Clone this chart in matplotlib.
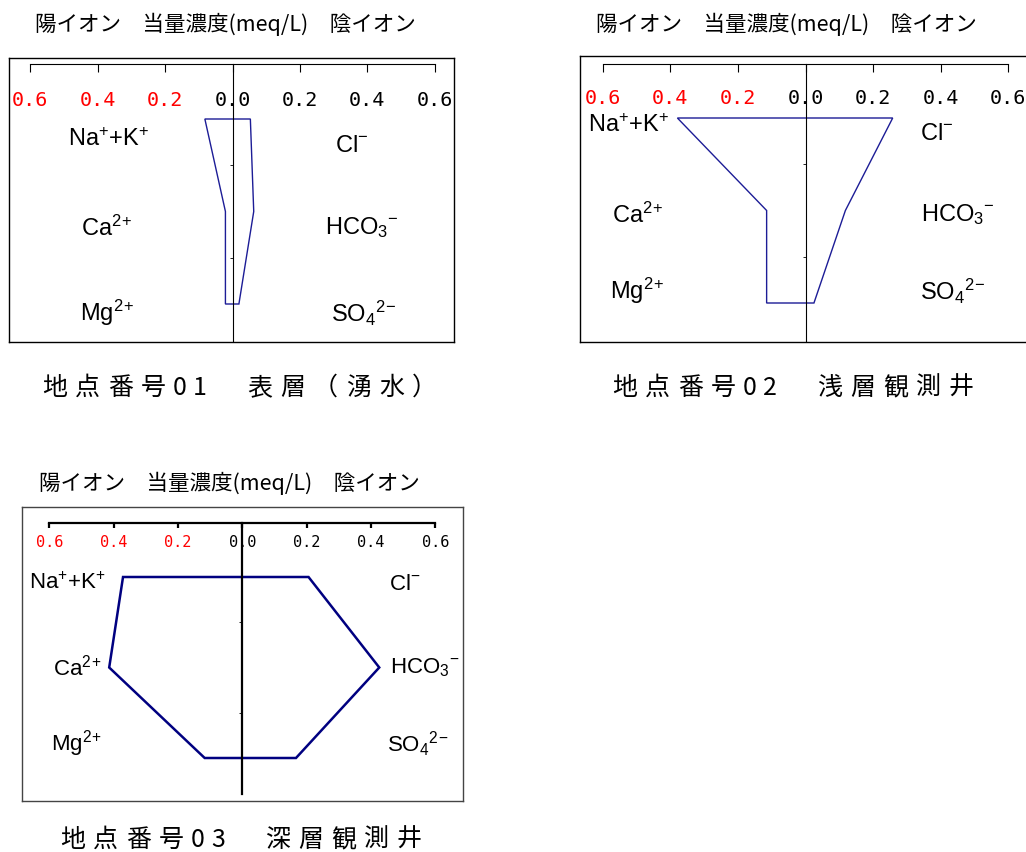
import matplotlib
matplotlib.use("Agg")
import matplotlib.pyplot as plt
from matplotlib.patches import Polygon

plt.rcParams['font.family'] = ['Noto Sans CJK JP', 'DejaVu Sans']
plt.rcParams['mathtext.fontset'] = 'custom'
plt.rcParams['mathtext.rm'] = 'Liberation Sans'
plt.rcParams['mathtext.default'] = 'rm'

# --- data (meq/L) ---
tick_vals = [-0.6, -0.4, -0.2, 0.0, 0.2, 0.4, 0.6]
tick_text = ['0.6', '0.4', '0.2', '0.0', '0.2', '0.4', '0.6']
title = '陽イオン　当量濃度(meq/L)　陰イオン'

# cations: Na+K, Ca, Mg   anions: Cl, HCO3, SO4
site01_cations = [0.082, 0.021, 0.021]
site01_anions = [0.053, 0.063, 0.019]
site02_cations = [0.379, 0.115, 0.115]
site02_anions = [0.258, 0.118, 0.025]
site03_cations = [0.371, 0.414, 0.117]
site03_anions = [0.206, 0.426, 0.167]

captions = ['地点番号01　表層（湧水）',
            '地点番号02　浅層観測井',
            '地点番号03　深層観測井']

cat_labels = [r'Na$^{+}$+K$^{+}$', r'Ca$^{2}$$^{+}$', r'Mg$^{2}$$^{+}$']
an_labels = [r'Cl$^{-}$', r'HCO$_{3}$$^{-}$', r'SO$_{4}$$^{2}$$^{-}$']

W, H = 1026, 853
fig = plt.figure(figsize=(W / 100, H / 100), dpi=100)


def draw_panel(cations, anions, lay):
    left, top, right, bottom = lay['box']
    ax = fig.add_axes([left / W, 1 - bottom / H, (right - left) / W, (bottom - top) / H])
    x0, sc = lay['x0'], lay['scale']
    r0, dr = lay['rows'][0], (lay['rows'][2] - lay['rows'][0]) / 2

    def px(x):
        return (x - x0) / sc

    def py(y):
        return (y - r0) / dr

    ax.set_xlim(px(left), px(right))
    ax.set_ylim(py(bottom), py(top))
    ax.set_xticks([])
    ax.set_yticks([])
    for s in ax.spines.values():
        s.set_color(lay['box_color'])
        s.set_linewidth(1.0)

    alw = lay['axis_lw']
    ya = py(lay['axis_y'])
    yt = py(lay['axis_y'] + lay['tick_len'])
    ax.plot([tick_vals[0], tick_vals[-1]], [ya, ya], color='black', lw=alw)
    ax.vlines(tick_vals, ya, yt, color='black', lw=alw)
    ax.plot([0, 0], [ya, py(lay['center_end'])], color='black', lw=alw)
    ax.hlines([0.5, 1.5], -3 / sc, 0, color='black', lw=0.6)

    yl = py(lay['tick_label_y'])
    for v, t in zip(tick_vals, tick_text):
        ax.text(v, yl, t, ha='center', va='center', family='DejaVu Sans Mono',
                fontsize=lay['tick_fs'], color='red' if v < 0 else 'black')

    rows = [0, 1, 2]
    verts = [(-c, r) for c, r in zip(cations, rows)] + \
            [(a, r) for a, r in zip(anions[::-1], rows[::-1])]
    ax.add_patch(Polygon(verts, closed=True, fill=False,
                         edgecolor=lay['poly_color'], lw=lay['poly_lw']))

    for lab, (x, y) in zip(cat_labels, lay['cat_pos']):
        ax.text(px(x), py(y), lab, ha='center', va='center',
                family='Liberation Sans', fontsize=lay['ion_fs'])
    for lab, (x, y) in zip(an_labels, lay['an_pos']):
        ax.text(px(x), py(y), lab, ha='center', va='center',
                family='Liberation Sans', fontsize=lay['ion_fs'])
    return ax


def spaced_text(s, x, y, fs=18, full=33, half=20):
    # caption drawn with wide letter spacing, one character per cell
    for i, ch in enumerate(s):
        w = half if ord(ch) < 128 else full
        if ch != '　':
            fig.text((x + w / 2) / W, 1 - y / H, ch, ha='center', va='center', fontsize=fs)
        x += w


lay1 = dict(box=(9, 59, 454, 343), x0=232.5, scale=337, rows=(120, 212.5, 305),
            axis_y=65, tick_len=8, tick_label_y=100, center_end=343,
            tick_fs=14.5, ion_fs=17, poly_lw=1.0, poly_color='#1c1c96', axis_lw=0.8,
            box_color='black',
            cat_pos=[(109, 140), (107, 228), (107, 313)],
            an_pos=[(352, 146), (362, 228), (364, 313)])
lay2 = dict(box=(580, 57, 1040, 343), x0=805.5, scale=338, rows=(119, 212, 304),
            axis_y=65, tick_len=8, tick_label_y=98, center_end=343,
            tick_fs=14.5, ion_fs=17, poly_lw=1.0, poly_color='#1c1c96', axis_lw=0.8,
            box_color='black',
            cat_pos=[(629, 126), (638, 215), (637, 291)],
            an_pos=[(937, 134), (958, 215), (953, 291)])
lay3 = dict(box=(22, 508, 463, 802), x0=242.3, scale=321.5, rows=(578, 669, 759),
            axis_y=524, tick_len=5, tick_label_y=543, center_end=795,
            tick_fs=11, ion_fs=16, poly_lw=1.8, poly_color='#000080', axis_lw=1.6,
            box_color='#444444',
            cat_pos=[(67, 583), (77, 668), (76, 744)],
            an_pos=[(405, 585), (425, 668), (418, 744)])

draw_panel(site01_cations, site01_anions, lay1)
draw_panel(site02_cations, site02_anions, lay2)
draw_panel(site03_cations, site03_anions, lay3)

for (x, y) in [(225, 24), (786, 24), (229, 483)]:
    fig.text(x / W, 1 - y / H, title, ha='center', va='center', fontsize=15.5)
for cap, (x, y) in zip(captions, [(38, 388), (608, 388), (56, 840)]):
    spaced_text(cap, x, y)

fig.savefig('out.png', dpi=100)
